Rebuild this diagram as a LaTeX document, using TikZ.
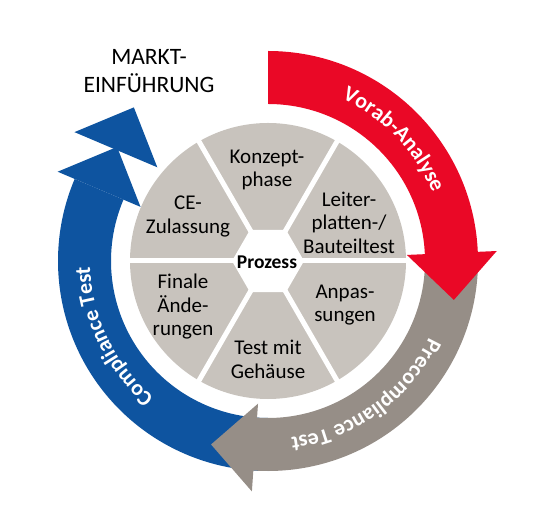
\documentclass[tikz,border=0pt]{standalone}
\usepackage{fontspec}
\setmainfont{Carlito}
\usetikzlibrary{calc,decorations.text}
\definecolor{redc}{RGB}{234,8,38}
\definecolor{bluec}{RGB}{14,84,160}
\definecolor{arrgray}{RGB}{150,142,135}
\definecolor{secgray}{RGB}{200,195,189}
\newcommand\arcfont{\fontsize{22bp}{26bp}\selectfont\bfseries}
\tikzset{
  sectxt/.style={align=center, font=\fontsize{21bp}{23.5bp}\selectfont, text=black, inner sep=0pt},
  arctext/.style={decorate, decoration={text along path, text align=center, text color=white, text={|\arcfont|#1}}}
}
\begin{document}
\begin{tikzpicture}[x=1bp,y=1bp]
\useasboundingbox (-268,-252) rectangle (272,261);
% process wheel
\fill[secgray] (0,0) circle[radius=138bp];
\foreach \a in {0,60,...,300} \draw[white, line width=5bp] (0,0) -- (\a:141);
\fill[white] (0:36) -- (60:36) -- (120:36) -- (180:36) -- (240:36) -- (300:36) -- cycle;
% blue arrow (Compliance Test)
\fill[bluec] (-90:210) arc[start angle=-90, end angle=-203, radius=210bp]
  -- (157:157) arc[start angle=-203, end angle=-90, radius=157bp] -- cycle;
\fill[bluec] (157:228.5) -- ($(157:183.5)+(67:46)$) -- (157:138.5) -- cycle;
\fill[bluec] ($(157:228.5)+(67:43)$) -- ($(157:183.5)+(67:89)$) -- ($(157:138.5)+(67:43)$) -- cycle;
% gray arrow (Precompliance Test)
\fill[arrgray] (0:210) arc[start angle=0, end angle=-94, radius=210bp]
  -- (-94:231) -- ($(-94:187)+(-184:44)$) -- (-94:143) -- (-94:157)
  arc[start angle=-94, end angle=0, radius=157bp] -- cycle;
% red arrow (Vorab-Analyse)
\fill[redc] (90:210) arc[start angle=90, end angle=2.5, radius=210bp]
  -- (2.5:229) -- ($(2.5:184)+(-87.5:47)$) -- (2.5:139) -- (2.5:157)
  arc[start angle=2.5, end angle=90, radius=157bp] -- cycle;
% texts along arrows
\path[arctext=Vorab-Analyse] (80:178) arc[start angle=80, end angle=8, radius=178bp];
\path[arctext=Precompliance Test] (0:178) arc[start angle=0, end angle=-108, radius=178bp];
\path[arctext=Compliance Test] (250:178) arc[start angle=250, end angle=162, radius=178bp];
% sector texts
\node[sectxt] (konzept) at (-1,91) {Konzept-\\phase};
\node[sectxt] (leiter) at (81,38.5) {Leiter-\\platten-/\\Bauteiltest};
\node[sectxt] (anpas) at (77,-44) {Anpas-\\sungen};
\node[sectxt] (test) at (0,-98.5) {Test mit\\Geh\"ause};
\node[sectxt] (finale) at (-85,-46) {Finale\\\"Ande-\\rungen};
\node[sectxt] (ce) at (-80,44.5) {CE-\\Zulassung};
\node[font=\fontsize{19.5bp}{22bp}\selectfont\bfseries, inner sep=0pt] (prozess) at (-1,-1) {Prozess};
\node[align=center, font=\fontsize{23.5bp}{28bp}\selectfont, inner sep=0pt] (markt) at (-119,190) {MARKT-\\EINF\"UHRUNG};
\end{tikzpicture}
\end{document}
